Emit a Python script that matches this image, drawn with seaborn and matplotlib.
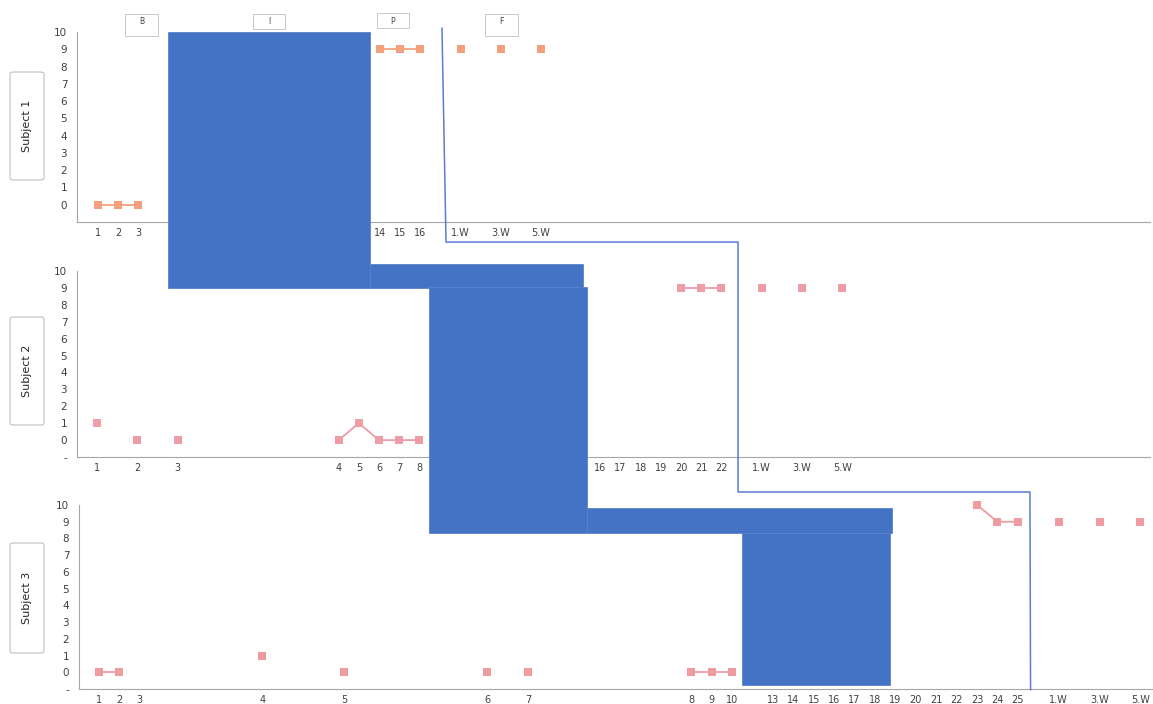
import matplotlib
matplotlib.use("Agg")
import matplotlib.pyplot as plt
import seaborn as sns
import pandas as pd
from matplotlib.patches import Polygon, Rectangle, FancyBboxPatch
from matplotlib.lines import Line2D

# ---------------- data ----------------
s1_labels = ["1", "2", "3"] + [""] * 11 + ["14", "15", "16", "", "1.W", "", "3.W", "", "5.W"]
s1_values = [0, 0, 0] + [None] * 11 + [9, 9, 9, None, 9, None, 9, None, 9]

s2_labels = (["1", "", "2", "", "3"] + [""] * 7 + ["4", "5", "6", "7", "8"] + [""] * 8
             + ["16", "17", "18", "19", "20", "21", "22", "", "1.W", "", "3.W", "", "5.W"])
s2_values = ([1, None, 0, None, 0] + [None] * 7 + [0, 1, 0, 0, 0] + [None] * 8
             + [None] * 4 + [9, 9, 9] + [None, 9, None, 9, None, 9])

s3_labels = (["1", "2", "3"] + [""] * 5 + ["4"] + [""] * 3 + ["5"] + [""] * 6 + ["6", "", "7"]
             + [""] * 7 + ["8", "9", "10", ""] + [str(i) for i in range(13, 26)]
             + ["", "1.W", "", "3.W", "", "5.W"])
s3_values = ([0, 0, None] + [None] * 5 + [1] + [None] * 3 + [0] + [None] * 6 + [0, None, 0]
             + [None] * 7 + [0, 0, 0, None] + [None] * 10 + [10, 9, 9]
             + [None, 9, None, 9, None, 9])

subjects = ["Subject 1", "Subject 2", "Subject 3"]
phases = ["B", "I", "P", "F"]
y_ticks = list(range(-1, 11))

# ---------------- figure ----------------
sns.set_style("white")
plt.rcParams["font.family"] = ["DejaVu Sans"]

W, H = 1153, 704
fig = plt.figure(figsize=(W / 100, H / 100), dpi=100)


def fx(x, y):
    return (x / W, 1 - y / H)


panel_cfg = [
    dict(labels=s1_labels, values=s1_values, box=(77, 32, 1150, 222), x0=98, dx=20.14,
         color="#F4A07E", nslots=53, dash=""),
    dict(labels=s2_labels, values=s2_values, box=(77, 271, 1150, 457), x0=97, dx=20.14,
         color="#EE9CA6", nslots=53, dash="-"),
    dict(labels=s3_labels, values=s3_values, box=(79, 505, 1153, 689), x0=99, dx=20.42,
         color="#EE9CA2", nslots=52, dash="-"),
]

axes = []
for cfg in panel_cfg:
    l, t, r, b = cfg["box"]
    ax = fig.add_axes([l / W, 1 - b / H, (r - l) / W, (b - t) / H])
    ax.set_facecolor("none")
    n = len(cfg["values"])
    slots = list(range(n))
    seg, segs = 0, []
    prev = None
    for i, v in enumerate(cfg["values"]):
        if v is None:
            segs.append(None)
            prev = None
            continue
        if prev is None:
            seg += 1
        segs.append(seg)
        prev = v
    df = pd.DataFrame({"x": slots, "y": cfg["values"], "seg": segs}).dropna()
    sns.lineplot(data=df, x="x", y="y", units="seg", estimator=None, sort=False,
                 color=cfg["color"], marker="s", markersize=6, markeredgewidth=0,
                 linewidth=1.3, ax=ax, legend=False, clip_on=False)
    ax.set_xlim((l - cfg["x0"]) / cfg["dx"], (r - cfg["x0"]) / cfg["dx"])
    ax.set_ylim(-1, 10)
    labels = cfg["labels"] + [""] * (cfg["nslots"] - len(cfg["labels"]))
    ax.set_xticks(range(cfg["nslots"]))
    ax.set_xticklabels(labels)
    ax.set_yticks(y_ticks)
    ax.set_yticklabels([cfg["dash"]] + [str(i) for i in range(0, 11)])
    ax.set_xlabel("")
    ax.set_ylabel("")
    for sp in ["top", "right"]:
        ax.spines[sp].set_visible(False)
    for sp in ["left", "bottom"]:
        ax.spines[sp].set_color("#A6A6A6")
        ax.spines[sp].set_linewidth(0.8)
    ax.tick_params(axis="x", direction="inout", length=4, width=0.7, color="#A6A6A6",
                   labelsize=7, labelcolor="#404040", pad=2)
    ax.tick_params(axis="y", direction="out", length=3, width=0.7, color="#A6A6A6",
                   labelsize=7.5, labelcolor="#404040", pad=4)
    axes.append(ax)

ax1, ax2, ax3 = axes


def P(axx, x, axy, y):
    px = axx.transData.transform((x, 0))[0]
    py = axy.transData.transform((0, y))[1]
    return tuple(fig.transFigure.inverted().transform((px, py)))


def rect(tl, br, **kw):
    (x0, y0), (x1, y1) = tl, br
    fig.add_artist(Polygon([(x0, y0), (x1, y0), (x1, y1), (x0, y1)], closed=True,
                           transform=fig.transFigure, **kw))


blue = "#4472C4"
kw = dict(facecolor=blue, edgecolor="#5A82CC", linewidth=0.6, zorder=5)
# intervention phase blocks (staircase)
rect(P(ax1, 3.5, ax1, 10), P(ax1, 13.5, ax2, 9.0), **kw)
rect(P(ax1, 13.5, ax2, 10.4), P(ax2, 24.13, ax2, 9.0), **kw)
rect(P(ax2, 16.5, ax2, 9.05), P(ax2, 24.35, ax3, 8.33), **kw)
rect(P(ax2, 24.35, ax3, 9.82), P(ax3, 38.83, ax3, 8.33), **kw)
rect(P(ax3, 31.5, ax3, 8.33), P(ax3, 38.75, ax3, -0.76), **kw)

# phase-change line
pts = [P(ax1, 17.08, ax1, 10.23), P(ax1, 17.28, ax1, -2.16), P(ax2, 31.83, ax1, -2.16),
       P(ax2, 31.83, ax2, -3.07), P(ax3, 45.59, ax2, -3.07), P(ax3, 45.62, ax3, -1.05)]
fig.add_artist(Line2D([p[0] for p in pts], [p[1] for p in pts], color="#5B7BD5",
                      linewidth=1.1, transform=fig.transFigure, zorder=6))

# phase label boxes
phase_boxes = [(125, 14, 158, 36), (253, 14, 285, 29), (377, 13, 409, 28), (485, 14, 518, 36)]
for name, (l, t, r, b) in zip(phases, phase_boxes):
    x0, y0 = fx(l, b)
    fig.add_artist(Rectangle((x0, y0), (r - l) / W, (b - t) / H, transform=fig.transFigure,
                             facecolor="white", edgecolor="#C8C8C8", linewidth=0.7, zorder=7))
    fig.text(*fx((l + r) / 2, t + 8), name, fontsize=5.5, color="#404040",
             ha="center", va="center", zorder=8)

# subject label boxes
subj_boxes = [(10, 72, 44, 180), (10, 317, 44, 425), (10, 543, 44, 653)]
for name, (l, t, r, b) in zip(subjects, subj_boxes):
    x0, y0 = fx(l, b)
    fig.add_artist(FancyBboxPatch((x0, y0), (r - l) / W, (b - t) / H,
                                  boxstyle="round,pad=0,rounding_size=0.003",
                                  transform=fig.transFigure, facecolor="white",
                                  edgecolor="#BFBFBF", linewidth=0.8, zorder=7))
    fig.text(*fx((l + r) / 2, (t + b) / 2), name, fontsize=8, color="#262626",
             rotation=90, ha="center", va="center", zorder=8)

fig.savefig("out.png", dpi=100, facecolor="white")
